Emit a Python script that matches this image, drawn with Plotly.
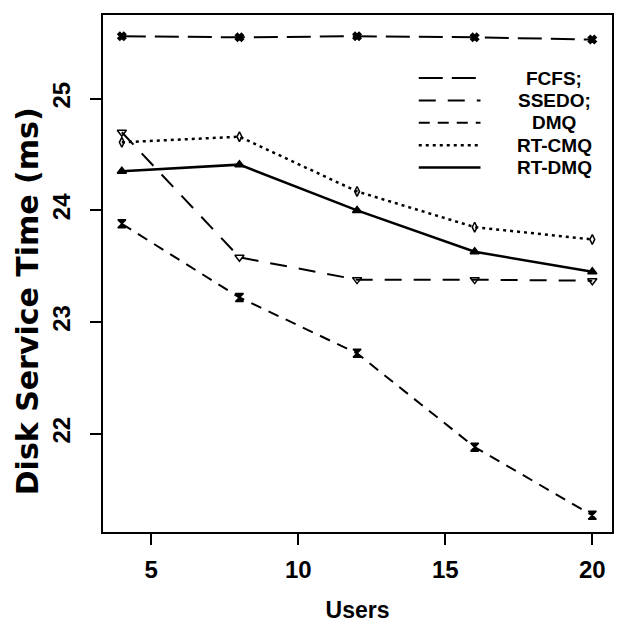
import plotly.graph_objects as go

users = [4, 8, 12, 16, 20]
fcfs = [25.56, 25.55, 25.56, 25.55, 25.53]
ssedo = [24.70, 23.58, 23.38, 23.38, 23.37]
dmq = [23.88, 23.22, 22.72, 21.88, 21.27]
rt_cmq = [24.61, 24.66, 24.17, 23.85, 23.74]
rt_dmq = [24.35, 24.41, 24.00, 23.63, 23.45]
names = ["FCFS;", "SSEDO;", "DMQ", "RT-CMQ", "RT-DMQ"]
values = [fcfs, ssedo, dmq, rt_cmq, rt_dmq]

dashes = ["24px,9px", "17px,12px", "11px,8px", "3px,4px", "solid"]
widths = [2, 2, 2, 2.5, 2.5]
symbols = ["x", "triangle-down-open", "hourglass", "diamond-tall-open", "triangle-up"]
msizes = [7, 8, 8, 7, 8]

FONT = "Liberation Sans"
fig = go.Figure()
for name, ys, dash, lw in zip(names, values, dashes, widths):
    fig.add_trace(go.Scatter(x=users, y=ys, mode="lines", name=name, showlegend=False,
                             line=dict(color="black", width=lw, dash=dash)))
for name, ys, sym, ms in zip(names, values, symbols, msizes):
    fig.add_trace(go.Scatter(x=users, y=ys, mode="markers", showlegend=False, name=name,
                             marker=dict(symbol=sym, size=ms, color="black",
                                         line=dict(color="black", width=1.5))))

# legend drawn in paper coordinates (plot area 103..614 px wide, 15..532 px tall)
PW, PH = 511.0, 517.0
leg_x0, leg_x1, leg_tx = (420 - 103) / PW, (482 - 103) / PW, (556 - 103) / PW
leg_top, leg_step = (532 - 78) / PH, 22.4 / PH
for i, (name, dash, lw) in enumerate(zip(names, dashes, widths)):
    yy = leg_top - i * leg_step
    fig.add_shape(type="line", xref="paper", yref="paper", x0=leg_x0, x1=leg_x1, y0=yy, y1=yy,
                  line=dict(color="black", width=lw, dash=dash))
    fig.add_annotation(xref="paper", yref="paper", x=leg_tx, y=yy, text=name, showarrow=False,
                       xanchor="center", yanchor="middle",
                       font=dict(family=FONT, size=19, color="black", weight="bold"))

# y-axis title
fig.add_annotation(xref="paper", yref="paper", x=(27 - 103) / PW, y=(532 - 301) / PH,
                   text="Disk Service Time (ms)", textangle=-90, showarrow=False,
                   xanchor="center", yanchor="middle",
                   font=dict(family="DejaVu Sans", size=30, color="black", weight="bold"))

axis_common = dict(showline=True, linecolor="black", linewidth=2, mirror=True,
                   ticks="outside", ticklen=11, tickwidth=2, tickcolor="black",
                   showgrid=False, zeroline=False,
                   tickfont=dict(family=FONT, size=24, color="black", weight="bold"))

fig.update_layout(
    width=617, height=626,
    margin=dict(l=103, r=3, t=15, b=94),
    plot_bgcolor="white", paper_bgcolor="white",
    font=dict(family=FONT, color="black"),
    showlegend=False,
    xaxis=dict(range=[3.36, 20.67], tickvals=[5, 10, 15, 20], ticklabelstandoff=4,
               title=dict(text="Users", font=dict(family=FONT, size=23, weight="bold"), standoff=20),
               **axis_common),
    yaxis=dict(range=[21.12, 25.75], tickvals=[22, 23, 24, 25], tickangle=-90, ticklabelstandoff=10,
               **axis_common),
)

fig.write_html("out.html", config={"displayModeBar": False},
               post_script="document.body.style.margin='0';document.body.style.overflow='hidden';")
